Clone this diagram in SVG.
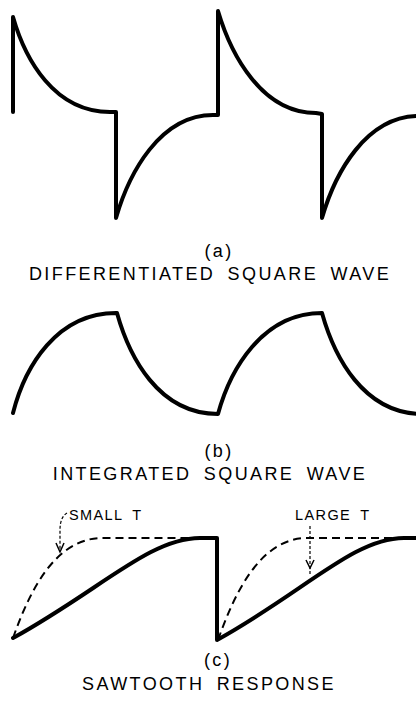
<svg xmlns="http://www.w3.org/2000/svg" width="416" height="705" viewBox="0 0 416 705">
<style>
.w{fill:none;stroke:#000;stroke-width:4;stroke-linejoin:round;stroke-linecap:round}
.d{fill:none;stroke:#000;stroke-width:2;stroke-dasharray:8 5}
.l{fill:none;stroke:#000;stroke-width:1.2;stroke-dasharray:3 2}
.a{fill:none;stroke:#000;stroke-width:1.5}
.t{font-family:"Liberation Sans",Arial,sans-serif;font-size:18px;letter-spacing:2.4px;word-spacing:5px;fill:#000;text-anchor:middle}
.s{font-family:"Liberation Sans",Arial,sans-serif;font-size:14.5px;letter-spacing:1.4px;word-spacing:4px;fill:#000}
</style>
<rect width="416" height="705" fill="#fff"/>
<g id="panel-a">
<path class="w" d="M13,112 L13,17 C25,59 54,112 110,112 L116,112 L116,218 C129,173 160,115 213,115 L218,115 L218,11 C231,55 262,113 316,113 L322,114 L322,218 C335,173 366,116 419,116"/>
<text class="t" x="219" y="257">(a)</text>
<text class="t" x="210" y="280">DIFFERENTIATED SQUARE WAVE</text>
</g>
<g id="panel-b">
<path class="w" d="M13,413 C25,366 57,313 116,313 L117,313 C129,356 158,414 218,414 C230,370 262,313 322,313 C334,356 363,414 423,414"/>
<text class="t" x="219" y="457">(b)</text>
<text class="t" x="210" y="480">INTEGRATED SQUARE WAVE</text>
</g>
<g id="panel-c">
<path class="d" d="M13,638 C30,590 55,540 100,538 L200,538"/>
<path class="d" d="M218,640 C235,592 260,540 305,538 L416,538"/>
<path class="w" d="M13,638 C100,590 150,538 200,538 L217,538 L217,640 C304,592 354,538 404,538 L420,538"/>
<text class="t" x="218" y="666">(c)</text>
<text class="t" x="209" y="690">SAWTOOTH RESPONSE</text>
</g>
<g id="connectors">
<path class="l" d="M67,513 C62,516 60,522 60,530 L60,551"/>
<path class="a" d="M56,543 L60,552 L64,543"/>
<path class="l" d="M310,526 L310,575"/>
<path class="a" d="M306,560 L310,568 L314,560"/>
</g>
<g id="label-small">
<text class="s" x="69" y="520">SMALL T</text>
</g>
<g id="label-large">
<text class="s" x="295" y="520">LARGE T</text>
</g>
</svg>
